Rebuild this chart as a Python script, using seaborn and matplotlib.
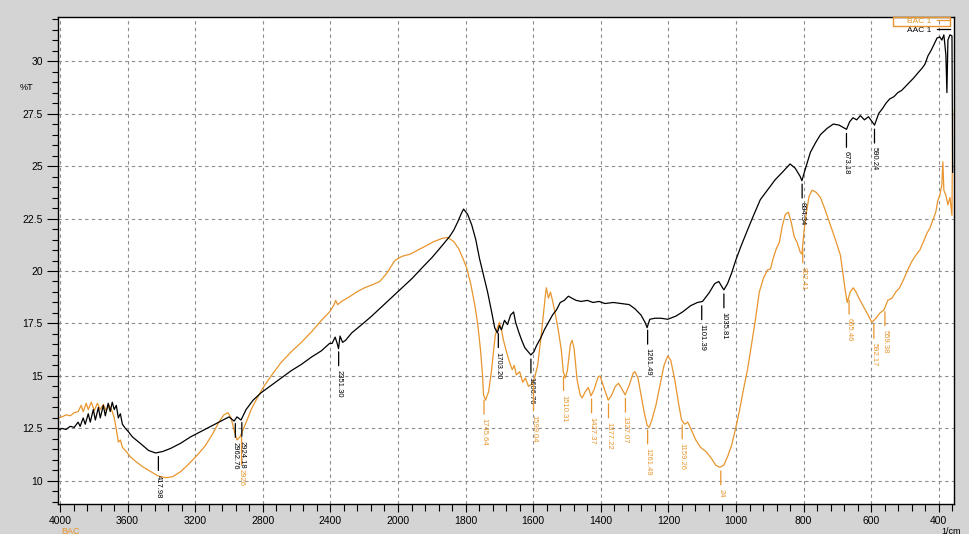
import numpy as np
import pandas as pd
import matplotlib
matplotlib.use("Agg")
import matplotlib.pyplot as plt
import seaborn as sns
from matplotlib.patches import Rectangle
from matplotlib.ticker import FixedLocator

# ---------------- data ----------------
aac_wn = [4010, 3988, 3964, 3940, 3916, 3893, 3881, 3863, 3851, 3833, 3821, 3803, 3791, 3773, 3762,
          3744, 3732, 3715, 3703, 3691, 3679, 3667, 3655, 3643, 3631, 3613, 3596, 3572, 3542, 3512,
          3476, 3435, 3393, 3345, 3285, 3227, 3167, 3108, 3048, 3000, 2970, 2953, 2929, 2899, 2857,
          2810, 2750, 2691, 2632, 2572, 2512, 2453, 2405, 2390, 2372, 2360, 2352, 2343, 2328, 2310,
          2274, 2214, 2156, 2096, 2036, 1988, 1958, 1929, 1899, 1870, 1847, 1835, 1823, 1811, 1806,
          1794, 1782, 1770, 1759, 1747, 1735, 1723, 1714, 1706, 1700, 1694, 1685, 1676, 1667, 1658,
          1652, 1643, 1634, 1625, 1607, 1598, 1590, 1578, 1567, 1555, 1543, 1531, 1520, 1508, 1496,
          1485, 1473, 1458, 1440, 1423, 1405, 1388, 1363, 1340, 1316, 1299, 1281, 1269, 1263, 1255,
          1240, 1222, 1202, 1178, 1158, 1134, 1114, 1099, 1080, 1063, 1051, 1036, 1025, 1013, 1001,
          986, 966, 948, 928, 907, 884, 863, 840, 825, 810, 805, 796, 780, 765, 750,
          730, 712, 695, 673, 664, 654, 643, 632, 620, 608, 590, 578, 566, 556, 545,
          533, 521, 510, 498, 486, 474, 461, 450, 441, 432, 423, 414, 405, 397, 391,
          385, 379, 376, 373, 367, 361, 359]
aac_t = [12.43, 12.5, 12.45, 12.6, 12.55, 12.8, 12.6, 13.0, 12.7, 13.2, 12.8, 13.4, 12.9, 13.5, 13.0,
         13.6, 13.1, 13.7, 13.3, 13.75, 13.4, 13.6, 13.0, 13.2, 12.7, 12.5, 12.35, 12.1, 11.9, 11.7,
         11.45, 11.33, 11.4, 11.55, 11.8, 12.1, 12.35, 12.6, 12.85, 13.05, 12.85, 13.05, 12.9, 13.4, 13.85,
         14.2, 14.55, 14.9, 15.25, 15.55, 15.9, 16.2, 16.55, 16.55, 16.85, 16.55, 16.3, 16.9, 16.6, 16.7,
         17.05, 17.45, 17.85, 18.3, 18.75, 19.2, 19.65, 20.15, 20.65, 21.2, 21.65, 21.95, 22.35, 22.8, 22.95,
         22.7, 22.2, 21.5, 20.6, 19.8, 19.0, 18.05, 17.3, 17.05, 17.4, 17.2, 17.65, 17.45, 17.9, 18.05,
         17.55, 17.1, 16.7, 16.35, 16.0, 16.15, 16.45, 16.8, 17.2, 17.55, 17.9, 18.15, 18.5, 18.6, 18.8,
         18.7, 18.6, 18.55, 18.6, 18.5, 18.55, 18.45, 18.5, 18.45, 18.4, 18.2, 17.9, 17.55, 17.3, 17.7,
         17.75, 17.75, 17.7, 17.85, 18.05, 18.35, 18.5, 18.55, 18.95, 19.4, 19.5, 19.1, 19.4, 19.9, 20.5,
         21.15, 21.95, 22.65, 23.4, 23.85, 24.35, 24.7, 25.1, 24.9, 24.5, 24.3, 24.8, 25.65, 26.1, 26.5,
         26.8, 27.0, 26.95, 26.75, 27.1, 27.3, 27.2, 27.4, 27.2, 27.35, 26.95, 27.5, 27.75, 28.0, 28.2,
         28.3, 28.5, 28.6, 28.8, 29.0, 29.2, 29.45, 29.65, 29.85, 30.25, 30.5, 30.8, 31.1, 31.15, 31.0,
         31.25, 30.3, 28.5, 31.0, 31.25, 31.2, 24.7]

bac_wn = [4010, 3988, 3964, 3940, 3916, 3893, 3875, 3863, 3845, 3833, 3815, 3797, 3779, 3762, 3744,
          3727, 3709, 3691, 3679, 3667, 3655, 3643, 3631, 3608, 3584, 3548, 3506, 3464, 3423, 3375,
          3333, 3285, 3239, 3191, 3143, 3096, 3060, 3030, 3006, 2988, 2971, 2953, 2935, 2917, 2893,
          2869, 2840, 2798, 2751, 2691, 2632, 2572, 2512, 2453, 2405, 2381, 2369, 2357, 2334, 2292,
          2245, 2198, 2150, 2108, 2066, 2019, 1988, 1964, 1941, 1917, 1894, 1870, 1853, 1835, 1820,
          1808, 1797, 1785, 1773, 1764, 1756, 1750, 1747, 1741, 1732, 1723, 1717, 1712, 1706, 1700,
          1694, 1688, 1679, 1670, 1662, 1656, 1650, 1640, 1631, 1623, 1614, 1605, 1596, 1587, 1578,
          1570, 1564, 1561, 1555, 1549, 1543, 1534, 1526, 1517, 1511, 1505, 1499, 1490, 1485, 1479,
          1470, 1461, 1455, 1446, 1437, 1429, 1420, 1408, 1402, 1391, 1378, 1369, 1357, 1348, 1340,
          1328, 1316, 1304, 1299, 1290, 1281, 1272, 1263, 1257, 1249, 1237, 1225, 1213, 1202, 1193,
          1181, 1169, 1161, 1152, 1143, 1134, 1119, 1105, 1089, 1074, 1060, 1048, 1036, 1025, 1013,
          1001, 989, 978, 966, 954, 942, 931, 919, 907, 898, 890, 881, 872, 863, 854,
          845, 837, 828, 819, 810, 805, 799, 793, 784, 775, 763, 750, 736, 721, 706,
          691, 683, 677, 671, 662, 653, 645, 633, 621, 609, 598, 586, 574, 562, 551,
          539, 527, 516, 504, 492, 480, 468, 456, 444, 435, 426, 417, 409, 403, 397,
          391, 388, 385, 379, 373, 367, 361, 359]
bac_t = [13.0, 13.05, 13.15, 13.1, 13.25, 13.3, 13.6, 13.3, 13.7, 13.4, 13.75, 13.35, 13.7, 13.4, 13.65,
         13.35, 13.6, 13.3, 13.0, 12.45, 11.85, 11.95, 11.6, 11.4, 11.15, 10.9, 10.65, 10.45, 10.25, 10.15,
         10.2, 10.45, 10.8, 11.2, 11.65, 12.25, 12.8, 13.15, 13.25, 13.0, 12.45, 11.95, 12.1, 12.45, 12.9,
         13.4, 13.85, 14.45, 15.0, 15.65, 16.15, 16.6, 17.1, 17.65, 18.05, 18.35, 18.6, 18.4, 18.55, 18.75,
         19.0, 19.2, 19.35, 19.5, 19.9, 20.5, 20.7, 20.8, 21.0, 21.2, 21.4, 21.55, 21.6, 21.4, 21.05,
         20.6, 20.15, 19.4, 18.4, 17.45, 16.25, 15.05, 14.1, 13.85, 14.25, 15.3, 16.25, 16.95, 17.3, 17.55,
         17.2, 16.7, 16.15, 15.65, 15.3, 15.5, 15.05, 15.2, 14.7, 14.9, 14.5, 14.6, 14.9, 15.5, 16.7,
         17.9, 18.85, 19.2, 18.7, 19.0, 18.6, 17.9, 17.2, 16.25, 15.2, 14.9, 15.25, 16.5, 16.7, 16.3,
         14.8, 14.1, 13.95, 14.25, 14.45, 14.05, 14.35, 14.95, 15.0, 14.45, 13.85, 14.05, 14.5, 14.65, 14.45,
         14.1, 14.55, 15.15, 15.2, 14.9, 14.1, 13.3, 12.65, 12.55, 12.9, 13.6, 14.55, 15.5, 15.95, 15.75,
         14.8, 13.6, 12.9, 12.7, 12.8, 12.5, 11.95, 11.6, 11.4, 11.1, 10.75, 10.65, 10.75, 11.15, 11.7,
         12.5, 13.4, 14.35, 15.3, 16.5, 17.75, 19.0, 19.65, 20.05, 20.1, 20.6, 21.05, 21.35, 22.15, 22.7,
         22.8, 22.35, 21.65, 21.35, 20.9, 20.8, 21.85, 22.65, 23.55, 23.85, 23.75, 23.5, 22.9, 22.2, 21.5,
         20.75, 19.8, 19.1, 18.5, 19.0, 19.2, 19.0, 18.6, 18.25, 17.9, 17.55, 17.75, 18.0, 18.15, 18.6,
         18.7, 19.0, 19.2, 19.6, 20.05, 20.45, 20.75, 21.0, 21.45, 21.8, 22.05, 22.45, 22.8, 23.35, 23.6,
         24.1, 25.2, 23.85, 23.6, 23.15, 23.5, 22.65, 27.65]

aac_peaks = [3417.98, 2962.76, 2924.18, 2351.30, 1703.20, 1606.76, 1261.49, 1101.39, 1035.81,
             804.34, 673.18, 590.24]
aac_peak_labels = ["417.98", "2962.76", "2924.18", "2351.30", "1703.20", "1606.76", "1261.49",
                   "1101.39", "1035.81", "804.34", "673.18", "590.24"]
bac_peaks = [2926, 1745.64, 1599.04, 1510.31, 1427.37, 1377.22, 1327.07, 1261.49, 1159.26,
             1045, 802.41, 665.46, 592.17, 559.38]
bac_peak_labels = ["2926", "1745.64", "1599.04", "1510.31", "1427.37", "1377.22", "1327.07",
                   "1261.49", "1159.26", "24", "802.41", "665.46", "592.17", "559.38"]

x_ticks = [4000, 3600, 3200, 2800, 2400, 2000, 1800, 1600, 1400, 1200, 1000, 800, 600, 400]
y_ticks = [10, 12.5, 15, 17.5, 20, 22.5, 25, 27.5, 30]
y_tick_labels = ["10", "12.5", "15", "17.5", "20", "22.5", "25", "27.5", "30"]

# ---------------- style ----------------
ORANGE = "#E8952D"
BG = "#d4d4d4"
plt.rcParams["font.family"] = ["Liberation Sans", "DejaVu Sans"]

W, H = 969, 534
fig = plt.figure(figsize=(W / 100, H / 100), dpi=100, facecolor=BG)
L, R, T, B = 58, 954, 17, 504
ax = fig.add_axes([L / W, 1 - B / H, (R - L) / W, (B - T) / H])
ax.set_facecolor("white")

# piecewise x-scale: 4000-2000 compressed by 2
def fwd(x):
    x = np.asarray(x, dtype=float)
    return np.where(x > 2000, 2000 + (x - 2000) / 2.0, x)

def inv(p):
    p = np.asarray(p, dtype=float)
    return np.where(p > 2000, 2000 + (p - 2000) * 2.0, p)

ax.set_xscale("function", functions=(fwd, inv))

df_a = pd.DataFrame({"wn": aac_wn, "t": aac_t})
df_b = pd.DataFrame({"wn": bac_wn, "t": bac_t})
sns.lineplot(data=df_b, x="wn", y="t", ax=ax, color=ORANGE, lw=0.9, estimator=None,
             label="BAC 1")
sns.lineplot(data=df_a, x="wn", y="t", ax=ax, color="black", lw=0.9, estimator=None,
             label="AAC 1")

ax.set_xlim(4012, 355)
ax.set_ylim(8.9, 32.1)

# ticks
ax.xaxis.set_major_locator(FixedLocator(x_ticks))
minor_x = list(range(4000, 2000, -80)) + list(range(2000, 350, -40))
ax.xaxis.set_minor_locator(FixedLocator(minor_x))
ax.set_xticklabels([str(v) for v in x_ticks])
ax.yaxis.set_major_locator(FixedLocator(y_ticks))
ax.set_yticklabels(y_tick_labels)
ax.yaxis.set_minor_locator(FixedLocator(np.arange(9.0, 32.01, 0.5)))
ax.tick_params(axis="x", which="major", direction="out", length=6, width=0.8,
               labelsize=7.5, pad=3)
ax.tick_params(axis="x", which="minor", direction="out", length=5, width=0.8)
ax.tick_params(axis="y", which="major", direction="out", length=8, width=0.8,
               labelsize=7.5, pad=3)
ax.tick_params(axis="y", which="minor", direction="out", length=4, width=0.8)
ax.set_xlabel("")
ax.set_ylabel("")

ax.grid(True, which="major", color="#8c8c8c", lw=0.8, ls=(0, (3, 3)))
for s in ax.spines.values():
    s.set_color("black")
    s.set_linewidth(1.0)

# peak annotations (extra drop, in points, for labels the software pushed lower)
extra_drop = {"2926": 10, "1599.04": 9}

def annotate(peaks, labels, xs, ys, color):
    order = np.argsort(xs)
    xs_s = np.asarray(xs)[order]
    ys_s = np.asarray(ys)[order]
    for wn, lab in zip(peaks, labels):
        v = np.interp(wn, xs_s, ys_s)
        drop = 16 + extra_drop.get(lab, 0)
        ax.annotate(lab, xy=(wn, v), xytext=(0, -drop), textcoords="offset points",
                    rotation=270, ha="center", va="top", fontsize=5.5, color=color,
                    annotation_clip=False, clip_on=True,
                    arrowprops=dict(arrowstyle="-", color=color, lw=0.9,
                                    shrinkA=1.0, shrinkB=3.0))

annotate(aac_peaks, aac_peak_labels, aac_wn, aac_t, "black")
annotate(bac_peaks, bac_peak_labels, bac_wn, bac_t, ORANGE)

# legend (text first, line after)
leg = ax.legend(loc="upper right", bbox_to_anchor=(951 / W, 1 - 16 / H),
                bbox_transform=fig.transFigure, frameon=False, markerfirst=False,
                fontsize=6, handlelength=1.6, handletextpad=0.6, labelspacing=0.15,
                borderpad=0.1, borderaxespad=0)
for txt, col in zip(leg.get_texts(), [ORANGE, "black"]):
    txt.set_color(col)
fig.patches.append(Rectangle((893 / W, 1 - 26 / H), 57 / W, 9 / H,
                             transform=fig.transFigure, fill=False,
                             edgecolor=ORANGE, lw=1.0, zorder=10))

fig.text(20 / W, 1 - 88 / H, "%T", fontsize=6.5, ha="left", va="center")
fig.text(70 / W, 1 - 531 / H, "BAC", fontsize=6.5, color=ORANGE, ha="center", va="center")
fig.text(951 / W, 1 - 531 / H, "1/cm", fontsize=6.5, ha="center", va="center")

fig.savefig("out.png", dpi=100, facecolor=BG)
